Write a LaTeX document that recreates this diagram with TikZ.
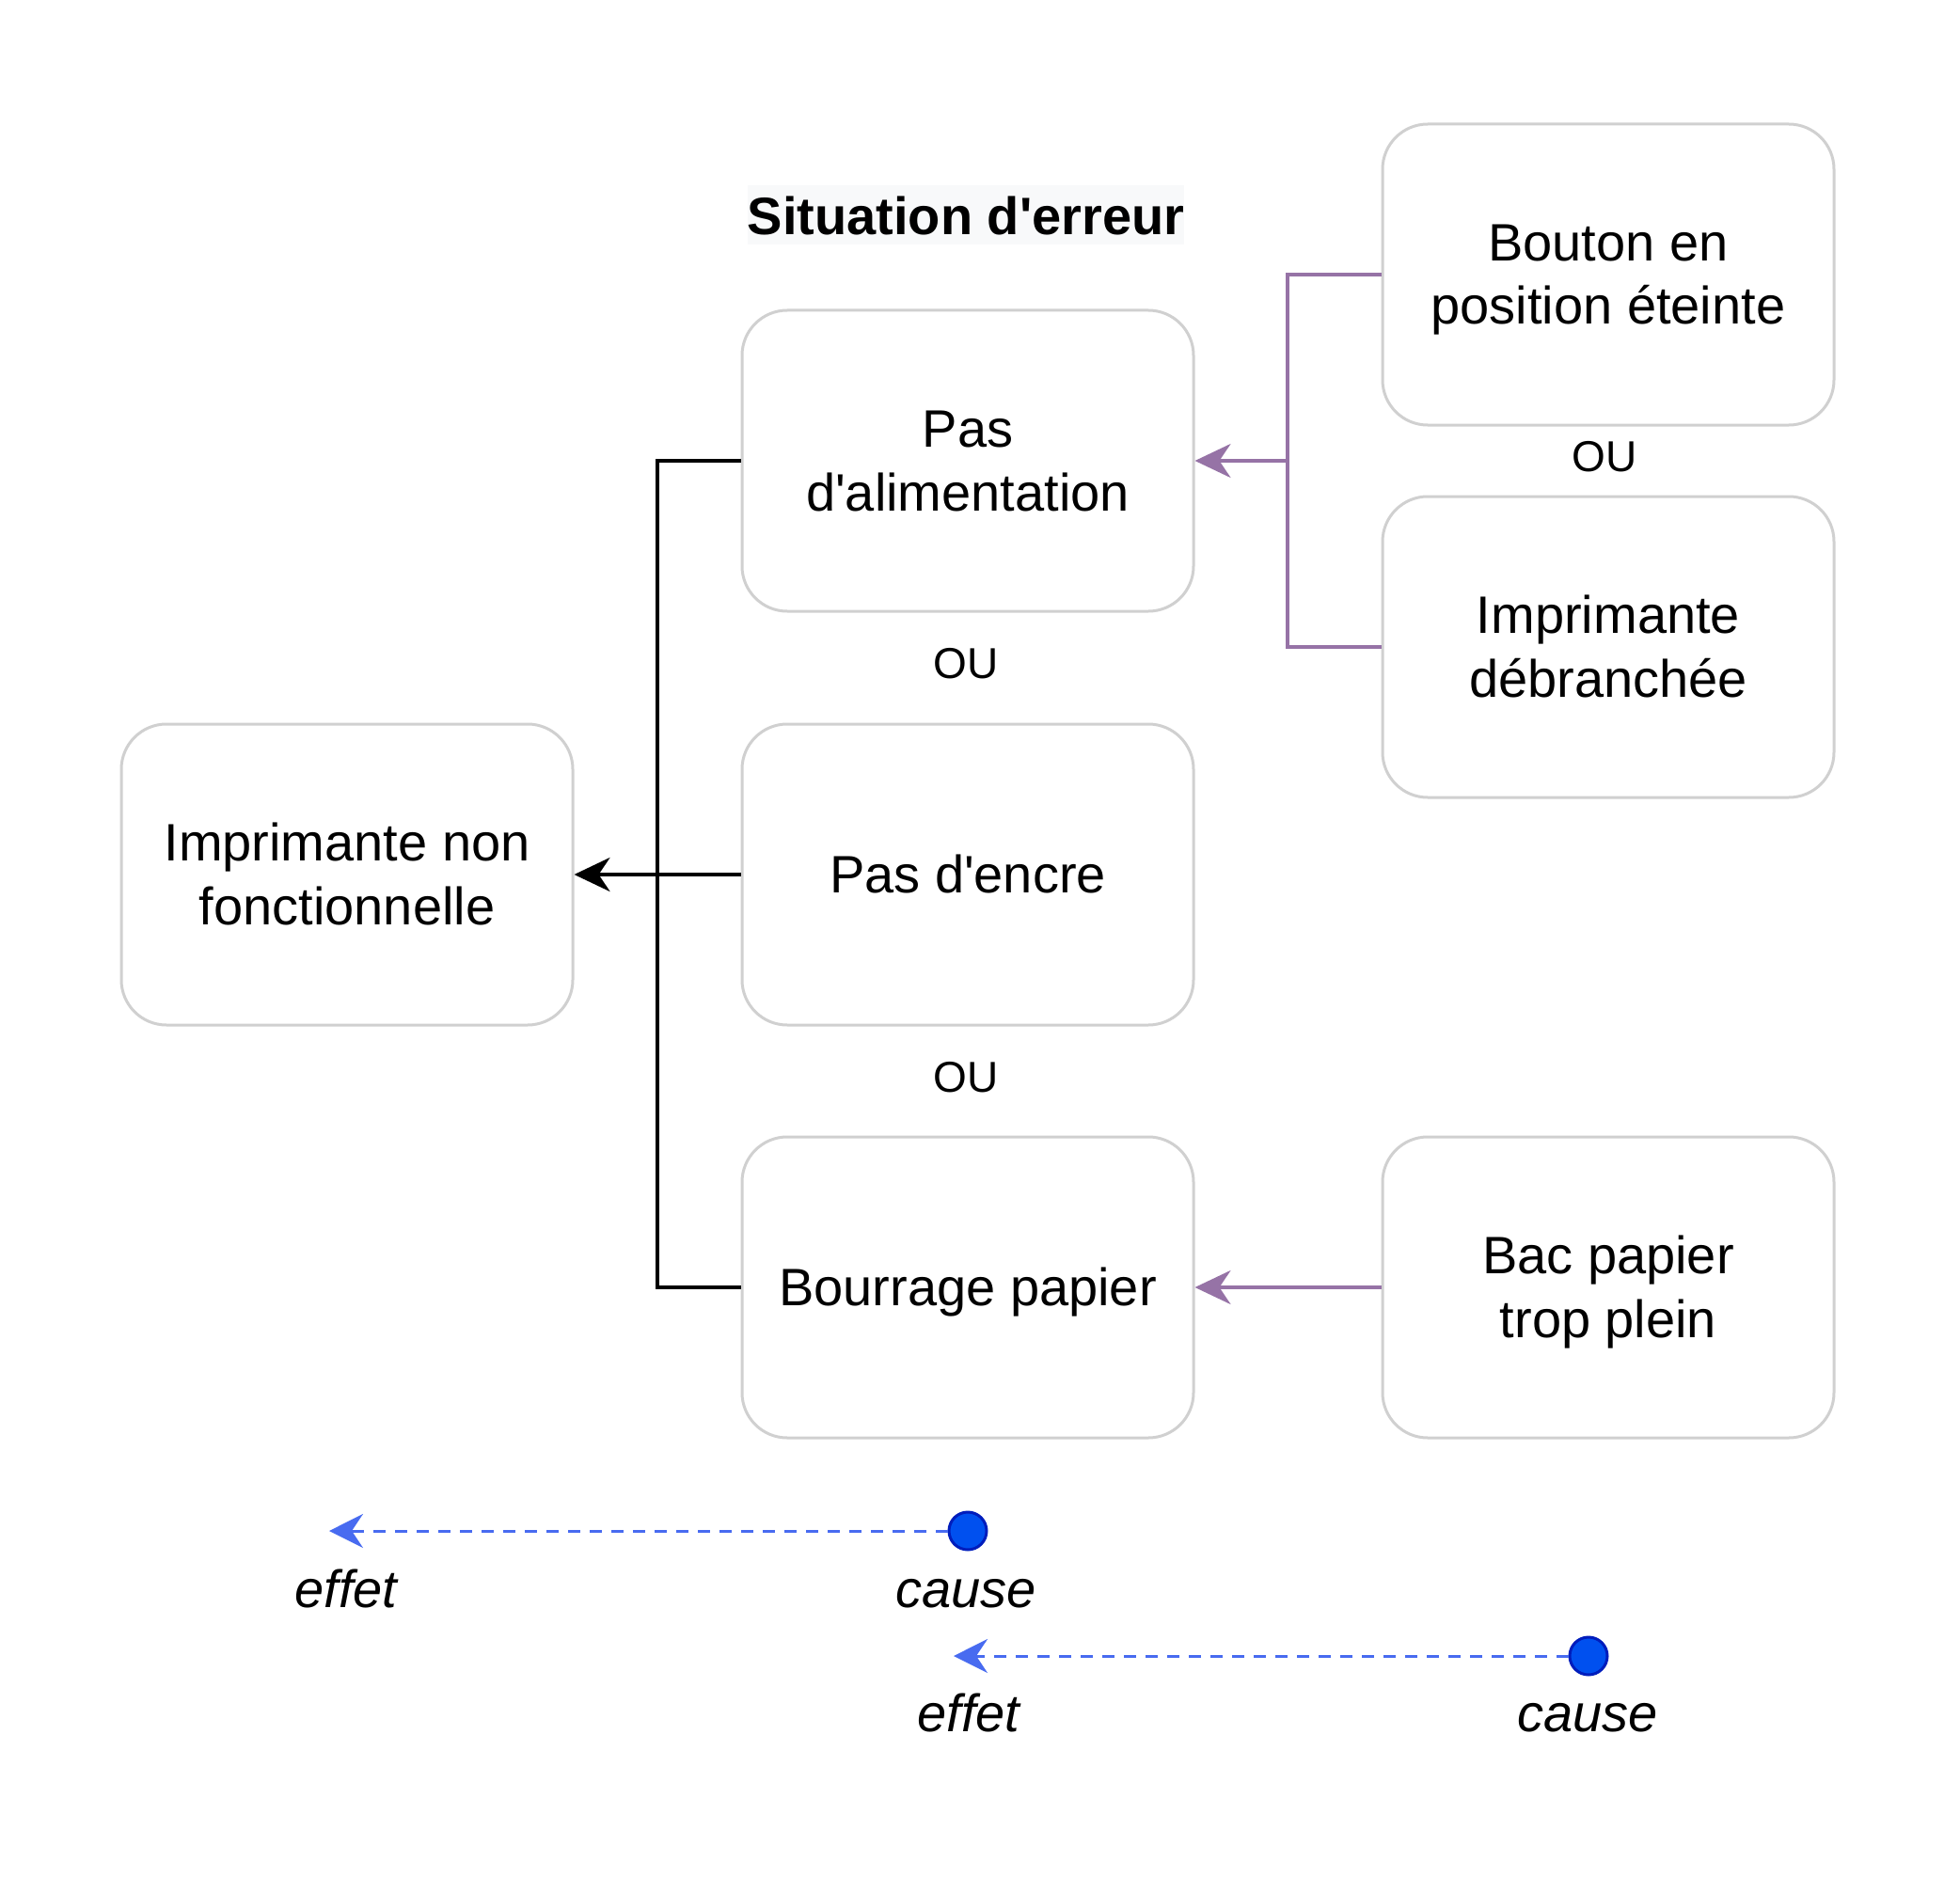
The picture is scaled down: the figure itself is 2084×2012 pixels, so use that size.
\documentclass[tikz,border=0pt]{standalone}
\usepackage{fontspec}
\newfontfamily\drawio{Liberation Sans}
\usetikzlibrary{arrows.meta}
\definecolor{grisBord}{RGB}{208,208,208}
\definecolor{violetLien}{RGB}{150,115,166}
\definecolor{bleuLien}{RGB}{72,107,240}
\definecolor{bleuPoint}{RGB}{0,80,239}
\definecolor{bleuBord}{RGB}{0,29,188}
\definecolor{fondTitre}{RGB}{248,249,250}
\newcommand{\ligne}{\rule[-7.5pt]{0pt}{34pt}}
\newcommand{\lignes}[1]{\ligne#1\ligne}
\begin{document}
\begin{tikzpicture}[x=0.5pt,y=0.5pt,yscale=-1,xscale=1,
  boite/.style={draw=grisBord,line width=1.5pt,fill=white,rounded corners=24pt,minimum width=240pt,minimum height=160pt,align=center,font=\drawio\fontsize{28}{34}\selectfont},
  lien/.style={line width=2pt},
  lienViolet/.style={line width=1.6pt,draw=violetLien},
  pointe/.style={-{Stealth[length=19pt,width=18pt,inset=6pt]}},
  ou/.style={font=\drawio\fontsize{23}{27}\selectfont,inner sep=0pt},
  legende/.style={font=\drawio\itshape\fontsize{28}{33.6}\selectfont,anchor=base,inner sep=0pt},
  fleche bleue/.style={draw=bleuLien,line width=1.5pt,dash pattern={on 6.5pt off 5pt},-{Stealth[length=18pt,width=18pt,inset=6pt,fill=bleuLien]}},
  point/.style={circle,fill=bleuPoint,draw=bleuBord,line width=1.5pt,minimum size=20pt,inner sep=0pt}]
\useasboundingbox (0,0) rectangle (2084,2012);

% Text Node
\node [fill=fondTitre,inner sep=0pt,minimum width=232pt,minimum height=31.5pt,font=\drawio\bfseries\fontsize{28}{33.6}\selectfont] (titre) at (1027,229) {Situation d'erreur};

%Shape: Rounded Rect
\node [boite] (imprNon) at (369,930) {\lignes{Imprimante non\\fonctionnelle}};
\node [boite] (alim) at (1029,490) {\lignes{Pas\\d'alimentation}};
\node [boite] (encre) at (1029,930) {\lignes{Pas d'encre}};
\node [boite] (bourrage) at (1029,1369) {\lignes{Bourrage papier}};
\node [boite] (bouton) at (1710,292) {\lignes{Bouton en\\position éteinte}};
\node [boite] (debranchee) at (1710,688) {\lignes{Imprimante\\débranchée}};
\node [boite] (bac) at (1710,1369) {\lignes{Bac papier\\trop plein}};

% Text Node
\node [ou] (ou1) at (1027,706) {OU};
\node [ou] (ou2) at (1027,1146) {OU};
\node [ou] (ou3) at (1706,486) {OU};

%Straight Lines
\coordinate (jonction) at (699,930);
\draw [lien] (alim.west) -| (jonction);
\draw [lien] (bourrage.west) -| (jonction);
\draw [lien,pointe] (encre.west) -- (imprNon.east);

%Straight Lines
\coordinate (jonctionV) at (1369,490);
\draw [lienViolet] (bouton.west) -| (jonctionV);
\draw [lienViolet] (debranchee.west) -| (jonctionV);
\draw [lienViolet,pointe,fill=violetLien] (jonctionV) -- (alim.east);
\draw [lienViolet,pointe,fill=violetLien] (bac.west) -- (bourrage.east);

%Legende
\node [point] (cause1) at (1029,1628) {};
\coordinate (effet1) at (350,1628);
\draw [fleche bleue] (cause1.west) -- (effet1);
\node [legende] (txtEffet1) at (368,1709) {effet};
\node [legende] (txtCause1) at (1027,1709) {cause};

\node [point] (cause2) at (1689,1761) {};
\coordinate (effet2) at (1014,1761);
\draw [fleche bleue] (cause2.west) -- (effet2);
\node [legende] (txtEffet2) at (1030,1841) {effet};
\node [legende] (txtCause2) at (1688,1841) {cause};
\end{tikzpicture}
\end{document}
